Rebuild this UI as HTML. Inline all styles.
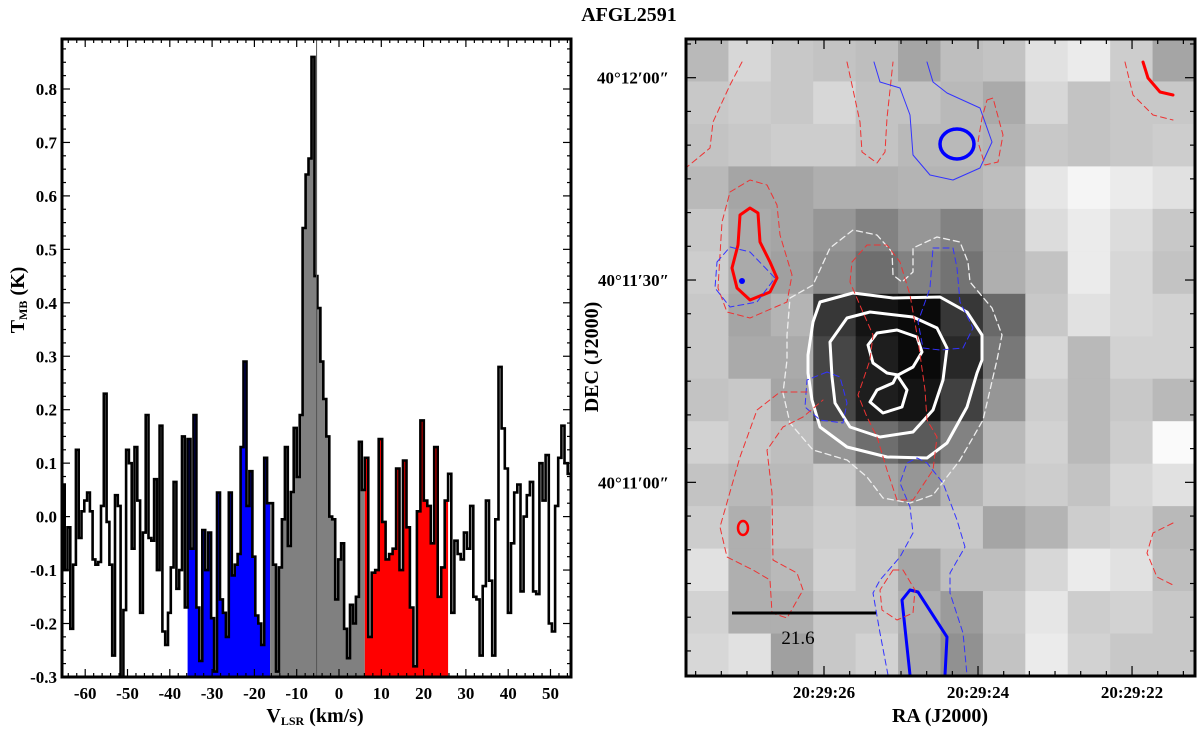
<!DOCTYPE html>
<html><head><meta charset="utf-8"><style>
body{margin:0;background:#fff;}
svg{display:block;font-family:"Liberation Serif",serif;}
</style></head><body>
<svg id="fig" width="1200" height="729" viewBox="0 0 1200 729" xmlns="http://www.w3.org/2000/svg">
<text x="629" y="21" text-anchor="middle" font-weight="bold" font-size="20">AFGL2591</text>
<g id="left"></g>
<g id="right"></g>
</svg>
<script>
// ---------- spectrum data ----------
const vEdges = [-65.5, -35.8, -16.3, 6.1, 25.8, 54.8];
const segColors = [null, "#0000ff", "#808080", "#ff0000", null];
const valsA = [0.06,-0.1,-0.02,-0.21,-0.09,0.125,-0.04,0.01,0.03,0.045,0.01,-0.08,-0.09,-0.085,0.02,0.23,-0.01,-0.09,-0.26,0.04,0.02,-0.3,-0.175,0.125,0.1,-0.06,0.13,0.03,-0.18,-0.03,0.19,-0.04,-0.045,0.07,-0.1,0.17,-0.215,-0.24,-0.18,-0.095,0.065,-0.135,-0.1,0.15,-0.17];
const valsBlue = [0.145,-0.06,0.19,-0.17,-0.27,-0.025,-0.1,-0.03,-0.19,-0.29,0.045,-0.155,-0.18,-0.225,0.045,-0.11,-0.09,-0.07,0.13,0.29,0.02,0.085,-0.075,-0.185,-0.2,-0.24,0.11,0.025];
const valsGray = [0.025,-0.09,-0.29,-0.095,-0.005,0.13,-0.055,0.046,0.166,0.074,0.19,0.54,0.64,0.67,0.86,0.45,0.39,0.29,0.22,0.15,0.0,-0.005,-0.155,-0.08,-0.05,-0.21,-0.265,-0.165,-0.2,-0.15,0.14,0.05];
const valsRed = [0.11,-0.225,-0.105,-0.1,0.145,-0.01,-0.08,-0.07,-0.06,0.09,-0.1,0.105,-0.02,-0.17,-0.28,0.01,0.18,0.03,0.02,-0.05,0.13,-0.15,-0.095,0.03];
const valsB = [0.08,-0.18,-0.045,-0.07,-0.08,-0.03,-0.06,0.02,-0.15,-0.155,-0.26,-0.13,0.03,-0.12,-0.26,-0.005,0.28,0.165,0.09,-0.18,-0.05,0.045,0.06,-0.14,0.0,0.04,0.065,-0.14,-0.145,0.1,0.03,0.115,-0.2,-0.215,0.02,0.11,0.17,0.1,0.08];
const segVals = [valsA, valsBlue, valsGray, valsRed, valsB];
const xTicks = [-60,-50,-40,-30,-20,-10,0,10,20,30,40,50];
const yTicks = [-0.3,-0.2,-0.1,0.0,0.1,0.2,0.3,0.4,0.5,0.6,0.7,0.8];
const peakV = -5.3;

// ---------- map data (grey levels, rows top->bottom) ----------
const mapRows = [
[185,215,200,195,190,165,190,195,225,235,205,165],
[200,205,200,215,195,195,185,170,215,195,200,200],
[195,200,205,205,195,185,185,180,200,195,200,205],
[185,165,165,175,175,180,180,190,230,245,235,225],
[200,170,165,150,130,150,130,175,220,235,220,200],
[205,170,160,140,110,130,115,175,195,235,215,195],
[200,165,180,55,20,10,55,105,200,225,215,210],
[200,170,170,70,30,10,40,120,215,185,210,210],
[195,200,165,70,30,20,65,150,205,185,200,185],
[210,200,190,150,110,90,130,185,210,185,205,250],
[195,185,185,200,165,150,180,200,205,195,215,225],
[205,175,195,205,200,200,200,165,180,205,210,185],
[225,175,185,210,200,165,190,190,215,235,225,190],
[210,175,175,200,200,175,155,200,230,205,210,200],
[215,225,160,200,210,170,145,195,235,210,200,200]];
const raLabels = ["20:29:26","20:29:24","20:29:22"];
const decLabels = ["40°12′00″","40°11′30″","40°11′00″"];

const NS="http://www.w3.org/2000/svg";
function mk(tag, attrs, parent){const e=document.createElementNS(NS,tag);for(const k in attrs)e.setAttribute(k,attrs[k]);parent.appendChild(e);return e;}

// ---------- left panel ----------
const L={x0:62,x1:571,y0:39,y1:677};
const xs=v=>339+v*4.23;
const ys=t=>516.6-t*534.5;
const left=document.getElementById('left');
const defs=mk('defs',{},left);
const cp=mk('clipPath',{id:'lclip'},defs);
mk('rect',{x:L.x0,y:L.y0,width:L.x1-L.x0,height:L.y1-L.y0},cp);
const plotG=mk('g',{'clip-path':'url(#lclip)'},left);
let line='';
segVals.forEach((vals,s)=>{
  const dv=(vEdges[s+1]-vEdges[s])/vals.length;
  let fill='';
  vals.forEach((t,i)=>{
    const xa=xs(vEdges[s]+i*dv), xb=xs(vEdges[s]+(i+1)*dv), y=ys(t);
    line+=(line?'L':'M')+xa.toFixed(1)+','+y.toFixed(1)+'L'+xb.toFixed(1)+','+y.toFixed(1);
    fill+=(fill?'L':'M')+xa.toFixed(1)+','+y.toFixed(1)+'L'+xb.toFixed(1)+','+y.toFixed(1);
  });
  if(segColors[s]){
    fill+='L'+xs(vEdges[s+1]).toFixed(1)+','+L.y1+'L'+xs(vEdges[s]).toFixed(1)+','+L.y1+'Z';
    const f=mk('path',{d:fill,fill:segColors[s],stroke:'none'},plotG);
    
    
  }
});
const sp=mk('path',{d:line,fill:'none',stroke:'#000','stroke-width':2.6,'stroke-linejoin':'miter'},plotG);


const pk=mk('line',{x1:xs(peakV),x2:xs(peakV),y1:L.y0,y2:L.y1,stroke:'#555','stroke-width':1},plotG);


mk('rect',{x:L.x0,y:L.y0,width:L.x1-L.x0,height:L.y1-L.y0,fill:'none',stroke:'#000','stroke-width':3},left);
for(let v=-64;v<=54;v+=2){const X=xs(v);const maj=v%10===0;const l=maj?8:4;
  mk('line',{x1:X,x2:X,y1:L.y1,y2:L.y1-l,stroke:'#000','stroke-width':1.2},left);
  mk('line',{x1:X,x2:X,y1:L.y0,y2:L.y0+l,stroke:'#000','stroke-width':1.2},left);}
for(let k=-12;k<=35;k++){const t=k*0.025;const Y=ys(t);if(Y<L.y0||Y>L.y1)continue;const maj=k%4===0;const l=maj?8:4;
  mk('line',{x1:L.x0,x2:L.x0+l,y1:Y,y2:Y,stroke:'#000','stroke-width':1.2},left);
  mk('line',{x1:L.x1,x2:L.x1-l,y1:Y,y2:Y,stroke:'#000','stroke-width':1.2},left);}
xTicks.forEach(v=>{const t=mk('text',{x:xs(v),y:699,'text-anchor':'middle','font-size':17,'font-weight':'bold'},left);t.textContent=v;
  
  });
yTicks.forEach(v=>{const t=mk('text',{x:57,y:ys(v)+6,'text-anchor':'end','font-size':17,'font-weight':'bold'},left);t.textContent=v.toFixed(1);
  
  });
</script>
<script>
const fig=document.getElementById('fig');
const xt=mk('text',{x:315,y:722,'text-anchor':'middle','font-size':20,'font-weight':'bold'},fig);
xt.innerHTML='V<tspan font-size="12" dy="3">LSR</tspan><tspan dy="-3"> (km/s)</tspan>';


const yt=mk('text',{x:0,y:0,'text-anchor':'middle','font-size':20,'font-weight':'bold',transform:'translate(24,300) rotate(-90)'},fig);
yt.innerHTML='T<tspan font-size="12" dy="3">MB</tspan><tspan dy="-3"> (K)</tspan>';



// ---------- right panel ----------
const R={x0:686,x1:1195,y0:39,y1:676};
const right=document.getElementById('right');
const cw=(R.x1-R.x0)/12, ch=(R.y1-R.y0)/15;
mapRows.forEach((row,r)=>row.forEach((g,c)=>{
  const cell=mk('rect',{x:R.x0+c*cw,y:R.y0+r*ch,width:cw+0.6,height:ch+0.6,fill:`rgb(${g},${g},${g})`},right);
  
  
}));
const contours=[
 ["820,302 853,293 893,298 940,297 967,312 982,335 982,360 977,373 967,407 947,443 927,458 887,457 847,447 820,427 812,400 808,373 808,355 813,322","#fff",3,null,true,"white-contour-outer"],
 ["830,342 847,318 870,312 913,317 937,328 947,348 943,380 933,410 913,432 880,437 850,427 835,403 832,377","#fff",3,null,true,"white-contour-middle"],
 ["868,345 877,333 897,330 917,337 922,352 913,367 898,375 887,373 873,363","#fff",3,null,true,"white-contour-inner-top"],
 ["897,375 907,390 902,407 883,413 870,402 877,390 893,383","#fff",3,null,true,"white-contour-inner-bottom"],
 ["790,298 813,285 830,248 853,230 877,235 892,252 893,275 902,282 913,272 913,248 937,237 960,242 968,262 970,282 992,308 1002,335 997,360 983,420 960,460 933,495 910,503 883,498 867,477 847,460 813,450 790,423 783,393 787,360 787,335","#eee",1.3,"6,4",true,"white-dashed-contour"],
 ["742,62 730,85 713,122 710,148 687,167","#e33",1,"6,4",false,"red-dashed-contour"],
 ["847,62 860,122 862,152 877,163 885,152 887,118 893,62","#e33",1,"6,4",false,"red-dashed-contour"],
 ["874,62 880,82 900,88 910,115 913,155 930,175 953,180 980,168 992,142 980,108 947,93 933,82 927,62","#33f",1,null,false,"blue-solid-contour"],
 ["987,100 993,98 1003,135 998,162 985,165 978,142 982,118","#e33",1,"6,4",true,"red-dashed-contour"],
 ["1125,62 1133,95 1153,115 1173,120","#e33",1,"6,4",false,"red-dashed-contour"],
 ["1143,62 1148,78 1160,92 1173,95","#f00",3,null,false,"red-thick-contour"],
 ["740,215 750,208 758,213 760,242 770,262 777,278 770,292 750,300 737,288 732,268 738,245","#f00",3,null,true,"red-thick-contour"],
 ["730,192 750,180 767,185 777,205 780,235 792,275 787,302 750,318 727,312 718,288 722,222","#e33",1,"6,4",true,"red-dashed-contour"],
 ["717,262 730,247 750,252 775,278 757,302 730,307 715,288","#33f",1,"6,4",true,"blue-dashed-contour"],
 ["933,248 953,248 957,268 960,302 973,328 963,348 940,350 923,348 918,322 930,288","#33f",1,"6,4",true,"blue-dashed-contour"],
 ["827,372 807,380 805,407 820,420 843,423 847,403 840,377","#33f",1,"6,4",true,"blue-dashed-contour"],
 ["888,675 880,633 873,593 880,580 900,557 913,533 910,507 900,483 907,463 917,458 927,463 943,483 957,520 965,547 950,573 950,593 963,633 967,675","#33f",1,"6,4",false,"blue-dashed-contour"],
 ["910,675 902,600 910,590 918,592 947,637 945,675","#00f",3,null,false,"blue-thick-contour"],
 ["893,570 880,590 882,610 897,620 913,613 915,590 903,570","#e33",1,"6,4",true,"red-dashed-contour"],
 ["1173,523 1153,533 1147,553 1157,577 1173,585","#e33",1,"6,4",false,"red-dashed-contour"],
 ["807,392 780,392 757,410 740,457 720,527 727,557 753,570 770,580 772,613 787,618 803,590 797,573 773,560 772,493 767,450 783,427 803,417 823,400","#e33",1,"6,4",false,"red-dashed-contour"],
 ["850,282 852,262 867,245 887,245 900,262 910,295 918,340 925,390 927,420 937,437 933,470 913,500 897,500 887,470 877,437 867,417 858,395 870,360 873,335 862,310 850,282","#e33",1,"6,4",false,"red-dashed-contour"]
];
contours.forEach(c=>{
  const a={points:c[0],fill:'none',stroke:c[1],'stroke-width':c[2],'stroke-linejoin':'round','stroke-linecap':'round'};
  if(c[3])a['stroke-dasharray']=c[3];
  const p=mk(c[4]?'polygon':'polyline',a,right);
  
  
});
const thickBlue=mk('ellipse',{cx:957,cy:144,rx:17,ry:15,fill:'none',stroke:'#00f','stroke-width':3.5},right);


const redSmall=mk('ellipse',{cx:743,cy:528,rx:5,ry:7,fill:'none',stroke:'#f00','stroke-width':2.5},right);


const dot=mk('circle',{cx:742,cy:281,r:3,fill:'#00f'},right);


const bar=mk('line',{x1:732,x2:876,y1:613,y2:613,stroke:'#000','stroke-width':3},right);


const bl=mk('text',{x:798,y:644,'text-anchor':'middle','font-size':19},right);
bl.textContent='21.6';


mk('rect',{x:R.x0,y:R.y0,width:R.x1-R.x0,height:R.y1-R.y0,fill:'none',stroke:'#000','stroke-width':3},right);
for(let k=-6;k<=14;k++){const X=824+k*25.67;if(X<=R.x0+1||X>=R.x1-1)continue;const l=(k%6===0)?10:5;
  mk('line',{x1:X,x2:X,y1:R.y1,y2:R.y1-l,stroke:'#000','stroke-width':1.2},right);
  mk('line',{x1:X,x2:X,y1:R.y0,y2:R.y0+l,stroke:'#000','stroke-width':1.2},right);}
for(let k=-1;k<=17;k++){const Y=77.7+k*33.72;if(Y<=R.y0+1||Y>=R.y1-1)continue;const l=(k%6===0)?10:5;
  mk('line',{x1:R.x0,x2:R.x0+l,y1:Y,y2:Y,stroke:'#000','stroke-width':1.2},right);
  mk('line',{x1:R.x1,x2:R.x1-l,y1:Y,y2:Y,stroke:'#000','stroke-width':1.2},right);}
raLabels.forEach((s,i)=>{const t=mk('text',{x:824+i*154,y:698,'text-anchor':'middle','font-size':17,'font-weight':'bold'},right);t.textContent=s;
  
  });
decLabels.forEach((s,i)=>{const t=mk('text',{x:669,y:77.7+i*202.3+6,'text-anchor':'end','font-size':17,'font-weight':'bold'},right);t.textContent=s;
  
  });
const rat=mk('text',{x:940,y:722,'text-anchor':'middle','font-size':20,'font-weight':'bold'},right);
rat.textContent='RA (J2000)';


const dect=mk('text',{x:0,y:0,'text-anchor':'middle','font-size':20,'font-weight':'bold',transform:'translate(598,357) rotate(-90)'},right);
dect.textContent='DEC (J2000)';


</script>
</body></html>
